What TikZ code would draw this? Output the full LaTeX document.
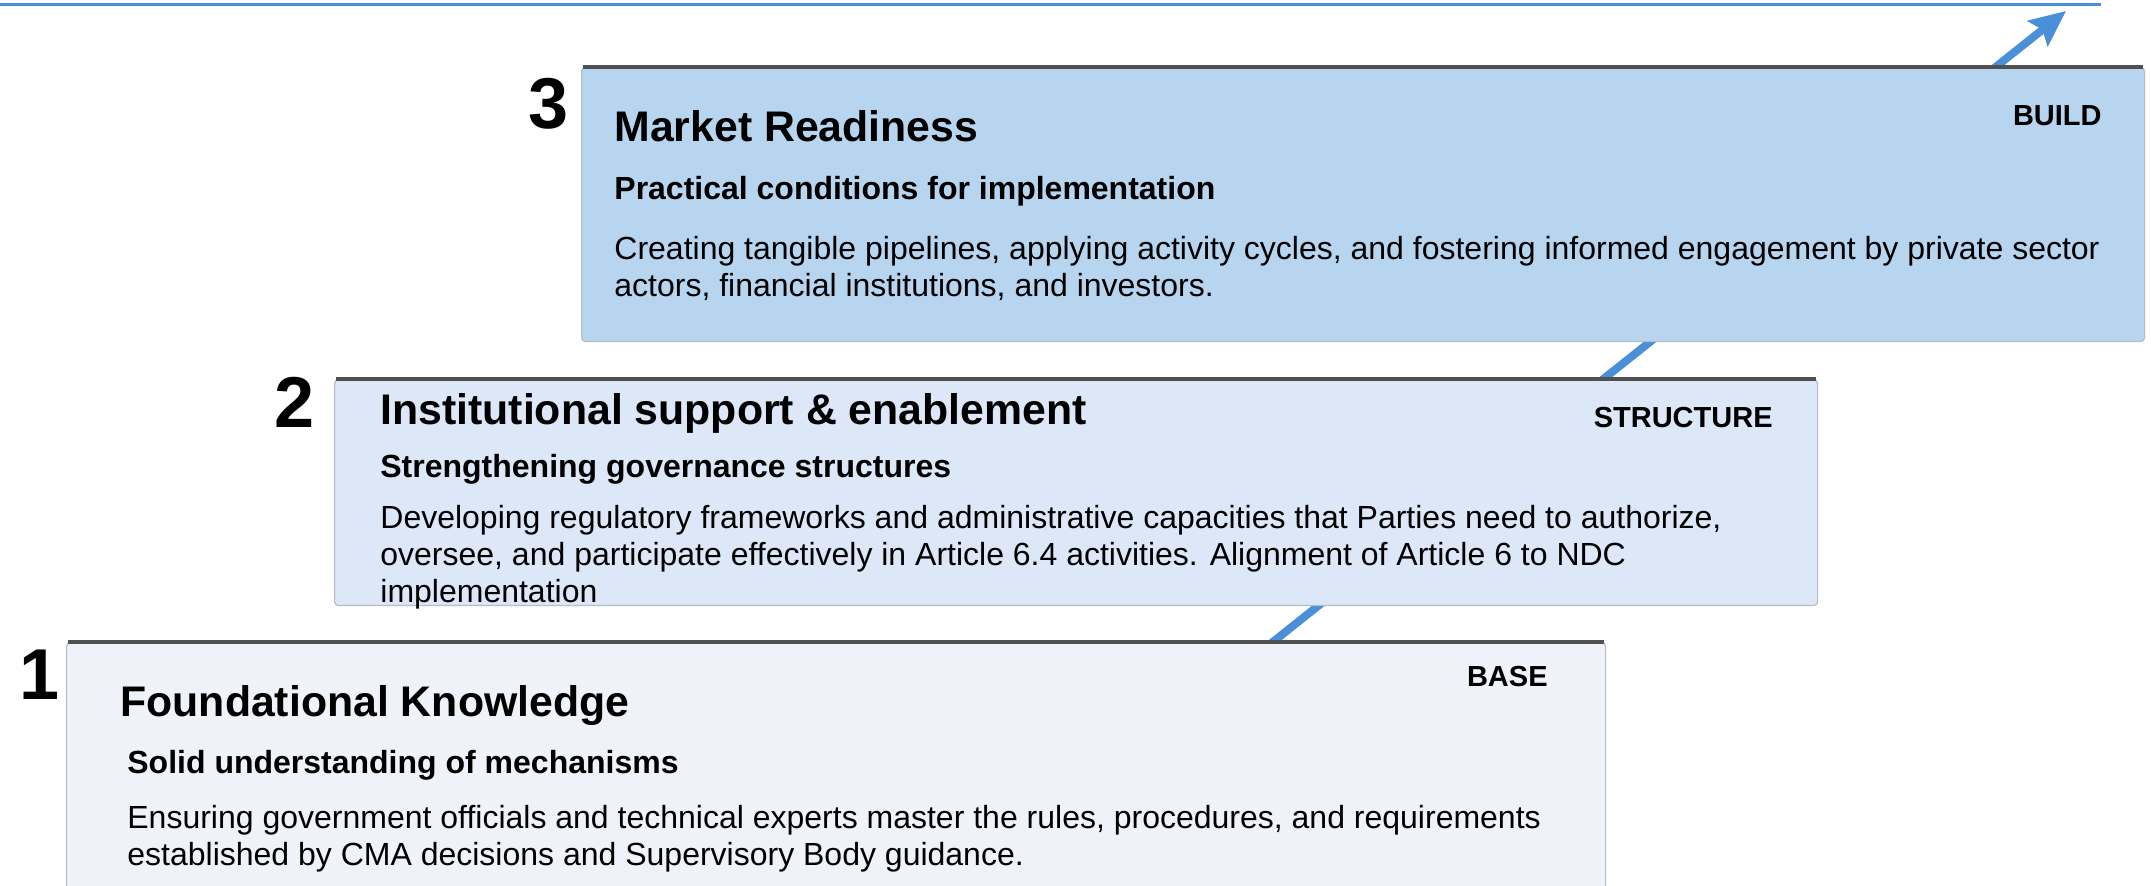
\documentclass[tikz,border=0pt]{standalone}
\usepackage{fontspec}
\setmainfont{Liberation Sans}
\usetikzlibrary{positioning, arrows.meta}
\definecolor{arrowblue}{HTML}{4A90D9}
\definecolor{fillbuild}{HTML}{B8D5F0}
\definecolor{fillstruct}{HTML}{DCE8F7}
\definecolor{fillbase}{HTML}{EFF3F9}
\definecolor{edgegray}{HTML}{B4BCC8}
\definecolor{topgray}{HTML}{505050}
\tikzset{
	panel/.style={draw=edgegray, line width=0.6pt, rounded corners=2pt, anchor=north west, inner sep=0pt},
	topline/.style={draw=topgray, line width=1.8pt},
	num/.style={font=\bfseries\fontsize{36}{36}\selectfont, inner sep=0pt},
	ttl/.style={font=\bfseries\fontsize{21.4}{25}\selectfont, anchor=base west, inner sep=0pt},
	sub/.style={font=\bfseries\fontsize{16}{19}\selectfont, anchor=base west, inner sep=0pt},
	body/.style={font=\fontsize{16}{18.5}\selectfont, align=left, anchor=base west, inner sep=0pt},
	tag/.style={font=\bfseries\fontsize{14.5}{17}\selectfont, anchor=base east, inner sep=0pt},
}
\begin{document}
\begin{tikzpicture}[x=0.5pt, y=0.5pt]
			\useasboundingbox (0,0) rectangle (2151,-886);
			\clip (0,0) rectangle (2151,-886);
			
			\coordinate (l0) at (0,-5);
			\coordinate (l1) at (2101,-5);
			\draw[arrowblue, line width=1.5pt] (l0) -- (l1);
			
			\coordinate (a0) at (1230,-676);
			\coordinate (a1) at (2066,-11);
			\draw[arrowblue, line width=4pt, -{Stealth[length=18pt, width=16pt, inset=3pt]}] (a0) -- (a1);
			
			\node[panel, fill=fillbuild, minimum width=781.5pt, minimum height=137pt] (b3) at (581,-67) {};
			\node[panel, fill=fillstruct, minimum width=741.5pt, minimum height=113pt] (b2) at (334,-379) {};
			\node[panel, fill=fillbase, minimum width=769.5pt, minimum height=135pt] (b1) at (66,-642) {};
			
			\draw[topline] ([xshift=1pt]b3.north west) -- ([xshift=-1pt]b3.north east);
			\draw[topline] ([xshift=1pt]b2.north west) -- ([xshift=-1pt]b2.north east);
			\draw[topline] ([xshift=1pt]b1.north west) -- ([xshift=-1pt]b1.north east);
			
			\node[num, below left=5.5pt and 6pt of b3.north west] (n3) {3};
			\node[num, below left=-1.3pt and 9.5pt of b2.north west] (n2) {2};
			\node[num, below left=3.7pt and 3pt of b1.north west] (n1) {1};
			
			% the base of a body node is its last line
			\node[ttl] (t3) at (614,-142) {Market Readiness};
			\node[tag] (g3) at (2102,-126) {BUILD};
			\node[sub] (s3) at (614,-200) {Practical conditions for implementation};
			\node[body] (d3) at (614,-297) {Creating tangible pipelines, applying activity cycles, and fostering informed engagement by private sector\\actors, financial institutions, and investors.};
			
			\node[ttl] (t2) at (380,-425) {Institutional support \& enablement};
			\node[tag] (g2) at (1773,-428) {STRUCTURE};
			\node[sub] (s2) at (380,-478) {Strengthening governance structures};
			\node[body] (d2) at (380,-603) {Developing regulatory frameworks and administrative capacities that Parties need to authorize,\\oversee, and participate effectively in Article 6.4 activities. Alignment of Article 6 to NDC\\implementation};
			
			\node[ttl] (t1) at (120,-716) {Foundational Knowledge};
			\node[tag] (g1) at (1548,-686) {BASE};
			\node[sub] (s1) at (127,-773) {Solid understanding of mechanisms};
			\node[body] (d1) at (127,-865) {Ensuring government officials and technical experts master the rules, procedures, and requirements\\established by CMA decisions and Supervisory Body guidance.};
			
		\end{tikzpicture}
\end{document}
